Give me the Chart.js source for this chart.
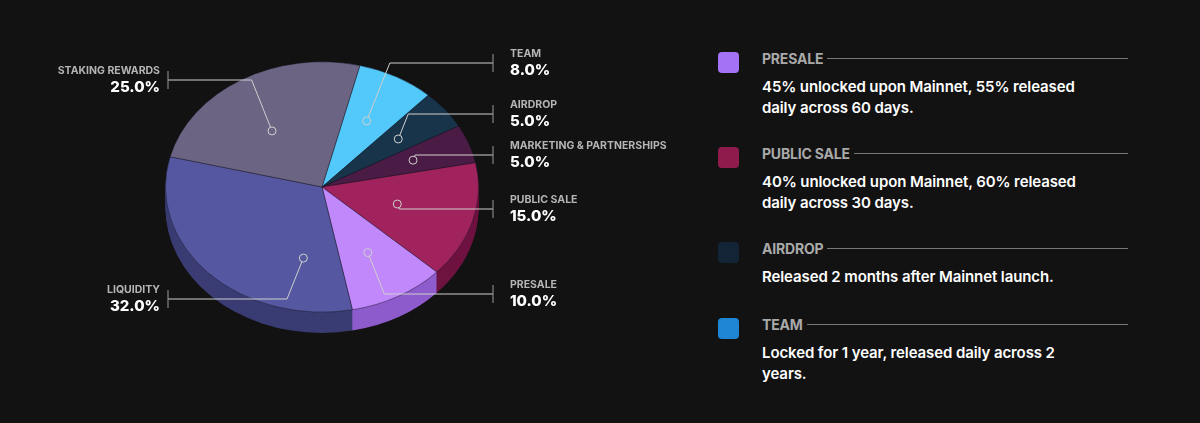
<!DOCTYPE html>
<html>
<head>
<meta charset="utf-8">
<script src="https://cdn.jsdelivr.net/npm/chart.js@4.4.1/dist/chart.umd.min.js"></script>
<style>
  body { margin: 0; background: #121212; width: 1200px; height: 423px; overflow: hidden; font-family: Inter, "Noto Sans", sans-serif; }
  #wrap { position: absolute; left: 0; top: 0; width: 700px; height: 423px; }
  .item { position: absolute; left: 718px; width: 410px; }
  .sq { position: absolute; left: 0; top: 2px; width: 21px; height: 21px; border-radius: 4px; }
  .ttl { position: absolute; left: 44px; top: 0; right: 0; display: flex; align-items: center; color: #a9a9a9; font-weight: 700; font-size: 14px; letter-spacing: -0.2px; }
  .ttl::after { content: ""; flex: 1; height: 1px; background: #777; margin-left: 4px; }
  .txt { position: absolute; left: 44px; top: 26px; width: 340px; color: #fff; font-weight: 600; font-size: 15px; line-height: 21px; letter-spacing: -0.1px; }
</style>
</head>
<body>
<div id="wrap"><canvas id="pie" width="700" height="423"></canvas></div>
<div class="item" style="top:50px"><div class="sq" style="background:#a472f5"></div><div class="ttl">PRESALE</div><div class="txt">45% unlocked upon Mainnet, 55% released daily across 60 days.</div></div>
<div class="item" style="top:145px"><div class="sq" style="background:#8e1b4c"></div><div class="ttl">PUBLIC SALE</div><div class="txt">40% unlocked upon Mainnet, 60% released daily across 30 days.</div></div>
<div class="item" style="top:240px"><div class="sq" style="background:#132436"></div><div class="ttl">AIRDROP</div><div class="txt">Released 2 months after Mainnet launch.</div></div>
<div class="item" style="top:316px"><div class="sq" style="background:#1f86d6"></div><div class="ttl">TEAM</div><div class="txt">Locked for 1 year, released daily across 2 years.</div></div>
<script>
const labels = ['TEAM', 'AIRDROP', 'MARKETING & PARTNERSHIPS', 'PUBLIC SALE', 'PRESALE', 'LIQUIDITY', 'STAKING REWARDS'];
const values = [8, 5, 5, 15, 10, 32, 25];
const topColors = ['#52c8fb', '#17344b', '#4a1c45', '#a0235e', '#c088fa', '#5558a0', '#6b6483'];
const sideColors = ['#2f86a8', '#0e2030', '#321330', '#6e1240', '#8e5ccc', '#3a3c73', '#4a4560'];
// callout layout: side, label line y, dot radius fraction, dot angle shift (fraction of slice)
const side = [1, 1, 1, 1, 1, -1, -1];
const lineY = [63, 114, 155, 209, 294, 299, 80];
const dotR = [0.6, 0.62, 0.62, 0.5, 0.6, 0.58, 0.55];
const dotPos = [0.5, 0.5, 0.5, 0.5, 0.5, 0.2, 0.45];

const SY = 0.8, DEPTH = 26;

const tilt = {
  id: 'tilt',
  beforeDatasetsDraw(chart) {
    const ctx = chart.ctx;
    const arcs = chart.getDatasetMeta(0).data;
    const cx = arcs[0].x, cy = arcs[0].y;
    ctx.save();
    ctx.translate(cx, cy); ctx.scale(1, SY); ctx.translate(-cx, -cy);
    for (let d = DEPTH; d > 0; d -= 1) {
      arcs.forEach((a, i) => {
        ctx.beginPath();
        ctx.moveTo(a.x, a.y + d);
        ctx.arc(a.x, a.y + d, a.outerRadius, a.startAngle, a.endAngle);
        ctx.closePath();
        ctx.fillStyle = sideColors[i];
        ctx.fill();
      });
    }
  },
  afterDatasetsDraw(chart) {
    chart.ctx.restore();
  },
  afterDraw(chart) {
    const ctx = chart.ctx;
    const arcs = chart.getDatasetMeta(0).data;
    ctx.save();
    arcs.forEach((a, i) => {
      const ang = a.startAngle + (a.endAngle - a.startAngle) * dotPos[i];
      const r = a.outerRadius * dotR[i];
      const px = a.x + Math.cos(ang) * r;
      const py = a.y + Math.sin(ang) * r * SY;
      const ly = lineY[i];
      const tickX = side[i] > 0 ? 493 : 168;
      const ex = px + side[i] * Math.abs(ly - py) * 0.4;
      ctx.strokeStyle = '#cfcfcf';
      ctx.lineWidth = 1;
      ctx.beginPath();
      ctx.arc(px, py, 4, 0, Math.PI * 2);
      ctx.stroke();
      const dx = ex - px, dy = ly - py, len = Math.hypot(dx, dy) || 1;
      ctx.beginPath();
      ctx.moveTo(px + dx / len * 4, py + dy / len * 4);
      ctx.lineTo(ex, ly);
      ctx.lineTo(tickX, ly);
      ctx.stroke();
      ctx.strokeStyle = '#999';
      ctx.beginPath();
      ctx.moveTo(tickX, ly - 9); ctx.lineTo(tickX, ly + 9);
      ctx.stroke();
      ctx.textAlign = side[i] > 0 ? 'left' : 'right';
      const tx = side[i] > 0 ? 510 : 160;
      ctx.fillStyle = '#b5b5b5';
      ctx.font = '700 10.5px Inter, sans-serif';
      ctx.fillText(labels[i], tx, ly - 6);
      ctx.fillStyle = '#ffffff';
      ctx.font = '800 15px Inter, sans-serif';
      ctx.fillText(values[i].toFixed(1) + '%', tx, ly + 12);
    });
    ctx.restore();
  }
};

new Chart(document.getElementById('pie'), {
  type: 'pie',
  data: { labels, datasets: [{ data: values, backgroundColor: topColors, borderColor: 'rgba(20,20,30,0.5)', borderWidth: 1 }] },
  options: {
    responsive: false,
    animation: false,
    rotation: 14,
    layout: { padding: { left: 165, right: 221, top: 30, bottom: 79 } },
    plugins: { legend: { display: false }, tooltip: { enabled: false } },
    events: []
  },
  plugins: [tilt]
});
</script>
</body>
</html>
